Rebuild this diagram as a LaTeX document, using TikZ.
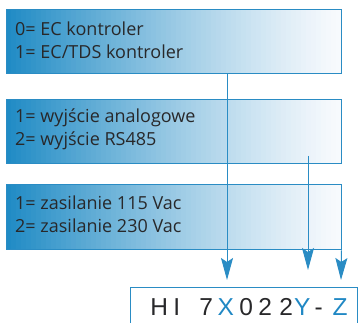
\documentclass[tikz,border=0pt]{standalone}
\usepackage{fontspec}
\setmainfont{Open Sans}
\newfontfamily\codefont{Liberation Sans}
\usetikzlibrary{arrows.meta}
\definecolor{lineblue}{RGB}{42,140,196}
\definecolor{codeblue}{RGB}{32,136,196}
\definecolor{txt}{RGB}{40,40,42}
\definecolor{sA}{RGB}{30,138,196}
\definecolor{sC}{RGB}{248,250,253}
\newcommand{\cg}[1]{\makebox[0pt]{#1}}
\newcommand{\cb}[1]{\makebox[0pt]{\textcolor{codeblue}{#1}}}
\tikzset{
  gbox/.style={draw=lineblue, line width=1pt, minimum width=335pt, minimum height=64pt, inner sep=0pt,
    path picture={
      \foreach \i in {0,...,66}{
        \pgfmathsetmacro{\p}{100*(1-(1-(\i+0.5)/67)^1.2)}
        \fill[sC!\p!sA] ([xshift=\i*5pt]path picture bounding box.south west) rectangle ([xshift=\i*5pt+5.6pt]path picture bounding box.north west);
      }
    }},
  lbl/.style={anchor=west, align=left, font=\fontsize{18}{23}\selectfont, text=txt, inner sep=0pt},
  arr/.style={draw=lineblue, line width=1pt, -{Stealth[length=22pt,width=12pt,inset=4pt]}}
}
\begin{document}
\begin{tikzpicture}[x=1pt,y=1pt]
\useasboundingbox (0,0) rectangle (359,323);
\node[gbox] (box1) at (173.5,281) {};
\node[gbox] (box2) at (173.5,191) {};
\node[gbox, minimum height=65pt] (box3) at (173.5,105.5) {};
\node[lbl] (t1) at (15,282.5) {0= EC kontroler\\1= EC/TDS kontroler};
\node[lbl] (t2) at (15,193.5) {1= wyjście analogowe\\2= wyjście RS485};
\node[lbl] (t3) at (15,108.5) {1= zasilanie 115 Vac\\2= zasilanie 230 Vac};
\node[draw=lineblue, line width=1pt, minimum width=227pt, minimum height=60pt, anchor=north west, inner sep=0pt] (code) at (130,36) {};
\node[anchor=base west, inner sep=0pt, font=\codefont\fontsize{24.5}{28}\selectfont, text=txt] (codetext) at (159,7)
  {\cg{H}\kern17.5pt\cg{I}\kern14.75pt\cg{\ }\kern14.75pt\cg{7}\kern19.5pt\cb{X}\kern20.5pt\cg{0}\kern19pt\cg{2}\kern21pt\cg{2}\kern16pt\cb{Y}\kern16.5pt\cg{-}\kern21.5pt\cb{Z}};
\coordinate (e1) at (227,43);
\coordinate (s2) at (308,167);
\coordinate (e2) at (308,53);
\coordinate (e3) at (341,43);
\draw[arr] (box1.south -| e1) -- (e1);
\draw[arr] (s2) -- (e2);
\draw[arr] (box3.south east) -- (e3);
\end{tikzpicture}
\end{document}
